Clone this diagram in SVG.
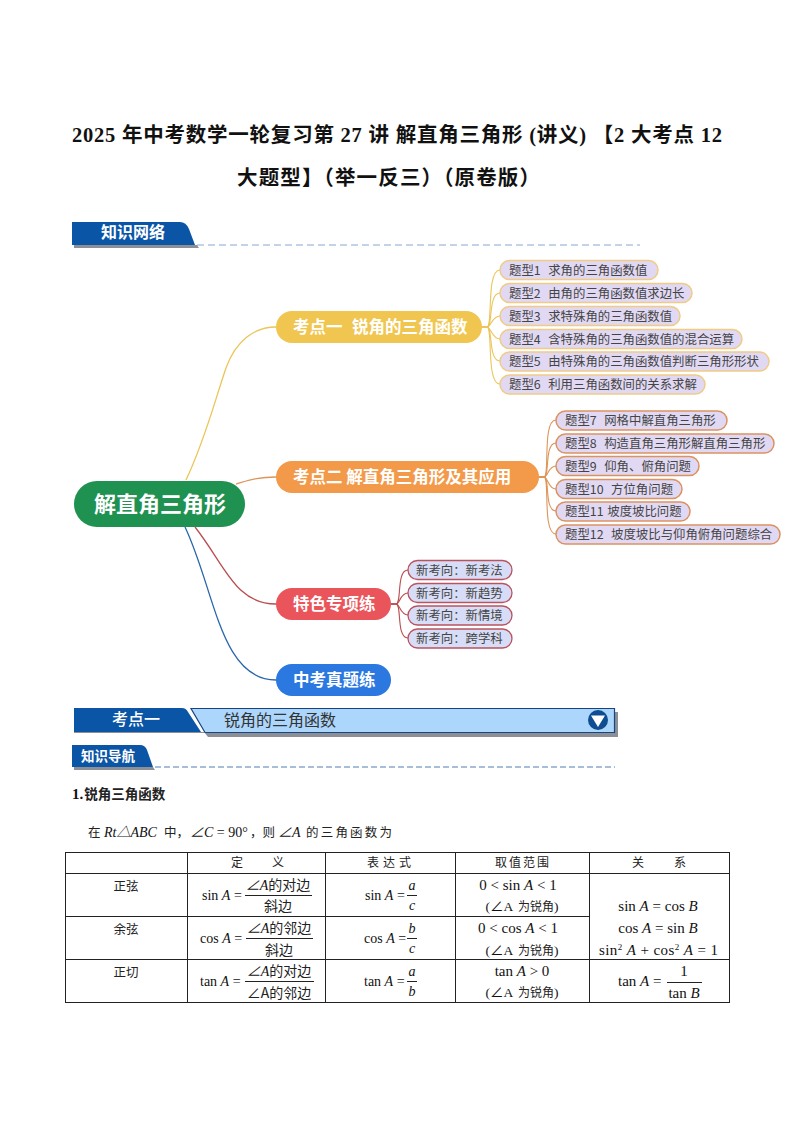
<svg xmlns="http://www.w3.org/2000/svg" width="794" height="1123" viewBox="0 0 794 1123">
<style>
text{font-family:"Noto Sans CJK SC","Noto Sans",sans-serif;white-space:pre}
.ttl{font-family:"Liberation Serif","Noto Sans CJK SC",serif;font-size:20.5px;font-weight:700;fill:#111}
.k{font-size:16.5px;font-weight:700;fill:#fff}
.lf{font-size:12.4px;fill:#444}
.l1{fill:#e1d9f3;stroke:#efcb86;stroke-width:1.5}
.l2{fill:#e1d9f3;stroke:#db9261;stroke-width:1.5}
.l3{fill:#d7ddf6;stroke:#b9535f;stroke-width:1.3}
.c{fill:none;stroke-width:1.3}
.f{fill:none;stroke-width:1.1}
.cy{stroke:#ebc55a}.co{stroke:#dd9458}.cr{stroke:#b94d50}.cb{stroke:#2a66ad}
.dash{stroke:#86a8d2;stroke-width:1;stroke-dasharray:7 4;fill:none}
.dash2{stroke:#4f7fb3;stroke-width:1;stroke-dasharray:6 3;fill:none}
.bn{fill:#0b55a6}.sh{fill:#8c9096}
.tl{stroke:#222;stroke-width:1;fill:none}
.m{font-family:"Liberation Serif","Noto Sans CJK SC",serif;font-size:14px;fill:#111}
.r{font-family:"Liberation Serif","Noto Sans CJK SC",serif;font-size:15px;fill:#111}
.p{font-family:"Liberation Serif","Noto Sans CJK SC",serif;font-size:13.500px;fill:#111}
.mi{font-style:italic}
.cj{font-family:"Noto Sans CJK SC",sans-serif;font-size:12.500px;fill:#222}
.cjs{font-family:"Noto Sans CJK SC",sans-serif;font-size:12px;fill:#222}
.cjb{font-family:"Noto Sans CJK SC",sans-serif;font-size:14px;fill:#222}
.one{font-family:"Liberation Serif",serif;font-size:15px;font-weight:700;fill:#111}
.oc{font-family:"Noto Sans CJK SC",sans-serif;font-size:13.500px;font-weight:700;fill:#222}
.mid{text-anchor:middle}
</style>
<rect width="794" height="1123" fill="#fff"/>
<g id="title">
<text class="ttl" x="72" y="142" textLength="650" lengthAdjust="spacing">2025 年中考数学一轮复习第 27 讲 解直角三角形 (讲义) 【2 大考点 12</text>
<text class="ttl" x="237" y="185" textLength="303" lengthAdjust="spacing">大题型】（举一反三）（原卷版）</text>
</g>
<g id="banner-network">
<path class="sh" d="M74 245H197L199 248H74Z"/>
<path class="bn" d="M72 222H180Q186 222 189 229L195 245H72Z"/>
<text x="101" y="238" font-size="16" font-weight="700" fill="#fff">知识网络</text>
<path class="dash" d="M197 245H640"/>
</g>
<g id="connectors">
<path class="c cy" d="M186 480C205 440 215 400 226 368C236 340 255 327 276 327"/>
<path class="c co" d="M236 484C250 480 258 477 276 477"/>
<path class="c cr" d="M195 527C225 565 235 604 276 604"/>
<path class="c cb" d="M185 527C215 590 220 680 276 680"/>
<path class="f cy" d="M482 327H487C493 327 486 270 500 270"/>
<path class="f cy" d="M482 327H487C493 327 488 293 500 293"/>
<path class="f cy" d="M482 327H487C491 327 492 316 500 316"/>
<path class="f cy" d="M482 327H487C491 327 492 339 500 339"/>
<path class="f cy" d="M482 327H487C493 327 488 361 500 361"/>
<path class="f cy" d="M482 327H487C493 327 486 384 500 384"/>
<path class="f co" d="M539 477H544C550 477 542 420 556 420"/>
<path class="f co" d="M539 477H544C550 477 544 443 556 443"/>
<path class="f co" d="M539 477H544C548 477 548 466 556 466"/>
<path class="f co" d="M539 477H544C548 477 548 489 556 489"/>
<path class="f co" d="M539 477H544C550 477 544 511 556 511"/>
<path class="f co" d="M539 477H544C550 477 542 534 556 534"/>
<path class="f cr" d="M391 604H396C402 604 396 570 408 570"/>
<path class="f cr" d="M391 604H396C400 604 400 593 408 593"/>
<path class="f cr" d="M391 604H396C400 604 400 615 408 615"/>
<path class="f cr" d="M391 604H396C402 604 396 638 408 638"/>
</g>
<g id="root"><rect x="74" y="481" width="171" height="46" rx="23" fill="#1f9150"/><text x="94" y="512" font-size="22" font-weight="700" fill="#fff">解直角三角形</text></g>
<g id="k1"><rect x="276" y="311" width="206" height="32" rx="16" fill="#f0c650"/><text class="k" x="293" y="333">考点一  <tspan dx="2">锐角的三角函数</tspan></text></g>
<g id="k2"><rect x="276" y="461" width="263" height="32" rx="16" fill="#f29a4a"/><text class="k" x="293" y="483">考点二 解直角三角形及其应用</text></g>
<g id="k3"><rect x="276" y="588" width="115" height="32" rx="16" fill="#e9555a"/><text class="k" x="293" y="610">特色专项练</text></g>
<g id="k4"><rect x="276" y="664" width="115" height="32" rx="16" fill="#2b78e0"/><text class="k" x="293" y="686">中考真题练</text></g>
<g id="t1"><rect class="l1" x="500" y="260.500" width="158" height="19" rx="9.500"/><text class="lf" x="509" y="275">题型1  <tspan dx="2">求角的三角函数值</tspan></text></g>
<g id="t2"><rect class="l1" x="500" y="283.500" width="192" height="19" rx="9.500"/><text class="lf" x="509" y="298">题型2  <tspan dx="2">由角的三角函数值求边长</tspan></text></g>
<g id="t3"><rect class="l1" x="500" y="306.500" width="180" height="19" rx="9.500"/><text class="lf" x="509" y="321">题型3  <tspan dx="2">求特殊角的三角函数值</tspan></text></g>
<g id="t4"><rect class="l1" x="500" y="329.500" width="242" height="19" rx="9.500"/><text class="lf" x="509" y="343.500">题型4  <tspan dx="2">含特殊角的三角函数值的混合运算</tspan></text></g>
<g id="t5"><rect class="l1" x="500" y="352" width="269" height="19" rx="9.500"/><text class="lf" x="509" y="366">题型5  <tspan dx="2">由特殊角的三角函数值判断三角形形状</tspan></text></g>
<g id="t6"><rect class="l1" x="500" y="375" width="205" height="19" rx="9.500"/><text class="lf" x="509" y="389">题型6  <tspan dx="2">利用三角函数间的关系求解</tspan></text></g>
<g id="t7"><rect class="l2" x="556" y="411" width="171" height="19" rx="9.500"/><text class="lf" x="565" y="425">题型7  <tspan dx="2">网格中解直角三角形</tspan></text></g>
<g id="t8"><rect class="l2" x="556" y="434" width="218" height="19" rx="9.500"/><text class="lf" x="565" y="448">题型8  <tspan dx="2">构造直角三角形解直角三角形</tspan></text></g>
<g id="t9"><rect class="l2" x="556" y="456.500" width="143" height="19" rx="9.500"/><text class="lf" x="565" y="471">题型9  <tspan dx="2">仰角、俯角问题</tspan></text></g>
<g id="t10"><rect class="l2" x="556" y="479.500" width="126" height="19" rx="9.500"/><text class="lf" x="565" y="494">题型10  <tspan dx="2">方位角问题</tspan></text></g>
<g id="t11"><rect class="l2" x="556" y="502" width="134" height="19" rx="9.500"/><text class="lf" x="565" y="516">题型11 <tspan dx="1">坡度坡比问题</tspan></text></g>
<g id="t12"><rect class="l2" x="556" y="525" width="224" height="19" rx="9.500"/><text class="lf" x="565" y="539">题型12  <tspan dx="2">坡度坡比与仰角俯角问题综合</tspan></text></g>
<g id="n1"><rect class="l3" x="408" y="560.500" width="104" height="19" rx="9.500"/><text class="lf" x="416" y="575">新考向：新考法</text></g>
<g id="n2"><rect class="l3" x="408" y="583.500" width="104" height="19" rx="9.500"/><text class="lf" x="416" y="598">新考向：新趋势</text></g>
<g id="n3"><rect class="l3" x="408" y="606" width="104" height="19" rx="9.500"/><text class="lf" x="416" y="620">新考向：新情境</text></g>
<g id="n4"><rect class="l3" x="408" y="629" width="104" height="19" rx="9.500"/><text class="lf" x="416" y="643">新考向：跨学科</text></g>
<g id="banner-kaodian">
<path class="sh" d="M74 732H204L208 737H618V712H615V733H74Z"/>
<path d="M191 708.500H614.500V732.500H205Z" fill="#acd6fb" stroke="#17457f" stroke-width="1.200"/>
<path class="bn" d="M74 708H182Q186 708 188 712L201 732H74Z"/>
<text x="112" y="725" font-size="16" font-weight="500" fill="#fff">考点一</text>
<text x="224" y="726" font-size="16" fill="#333">锐角的三角函数</text>
<circle cx="598" cy="720" r="10" fill="#0f4d92"/>
<path d="M591 715.500H605L598 727Z" fill="#fff"/>
</g>
<g id="banner-nav">
<path class="sh" d="M74 767H153L155 770H74Z"/>
<path class="bn" d="M72 745H140Q145 745 147 750L153 767H72Z"/>
<text x="81" y="761" font-size="13.500" font-weight="700" fill="#fff">知识导航</text>
<path class="dash2" d="M155 767H615"/>
</g>
<g id="body-text">
<text class="one" x="72" y="799">1.<tspan class="oc" dx="1">锐角三角函数</tspan></text>
<text class="cj" x="88" y="837">在</text>
<text class="m mi" x="104" y="837">Rt△ABC</text>
<text class="cj" x="164" y="837">中，</text>
<text class="m" x="190" y="837"><tspan class="mi">∠C</tspan> = 90°</text>
<text class="cj" x="250" y="837">，则</text>
<text class="m mi" x="278" y="837">∠A</text>
<text class="cj" x="306" y="837" textLength="86" lengthAdjust="spacing">的三角函数为</text>
</g>
<g id="table">
<path class="tl" d="M65 852.500H730M65 873.500H730M65 916.500H589M65 959.500H730M65 1002.500H730M65.500 852V1003M187.500 852V1003M325.500 852V1003M455.500 852V1003M589.500 852V1003M729.500 852V1003"/>
<text class="cjs" x="231" y="867">定</text><text class="cjs" x="272" y="867">义</text>
<text class="cjs" x="367" y="867" textLength="44">表达式</text>
<text class="cjs" x="495" y="867" textLength="54">取值范围</text>
<text class="cjs" x="632" y="867">关</text><text class="cjs" x="674" y="867">系</text>
<text class="cj mid" x="126" y="891">正弦</text>
<text class="cj mid" x="126" y="934">余弦</text>
<text class="cj mid" x="126" y="977">正切</text>
<g id="row-sin">
<text class="m" x="202" y="900">sin <tspan class="mi">A</tspan> =</text>
<path class="tl" d="M245 895.500H312"/>
<text class="cjb mid" x="278" y="890"><tspan class="m mi">∠A</tspan>的对边</text>
<text class="cjb mid" x="278" y="911">斜边</text>
<text class="m" x="365" y="900">sin <tspan class="mi">A</tspan> =</text>
<path class="tl" d="M407 895.500H417"/>
<text class="m mi mid" x="412" y="890">a</text><text class="m mi mid" x="412" y="910">c</text>
<text class="r mid" x="518" y="890">0 &lt; sin <tspan class="mi">A</tspan> &lt; 1</text>
<text class="p mid" x="522" y="911">(∠A <tspan class="cjs" dx="2">为锐角</tspan>)</text>
</g>
<g id="row-cos">
<text class="m" x="200" y="943">cos <tspan class="mi">A</tspan> =</text>
<path class="tl" d="M246 938.500H313"/>
<text class="cjb mid" x="279" y="933"><tspan class="m mi">∠A</tspan>的邻边</text>
<text class="cjb mid" x="279" y="955">斜边</text>
<text class="m" x="364" y="943">cos <tspan class="mi">A</tspan> =</text>
<path class="tl" d="M407 938.500H417"/>
<text class="m mi mid" x="412" y="933">b</text><text class="m mi mid" x="412" y="953">c</text>
<text class="r mid" x="518" y="933">0 &lt; cos <tspan class="mi">A</tspan> &lt; 1</text>
<text class="p mid" x="522" y="955">(∠A <tspan class="cjs" dx="2">为锐角</tspan>)</text>
</g>
<g id="row-tan">
<text class="m" x="200" y="986">tan <tspan class="mi">A</tspan> =</text>
<path class="tl" d="M245 981.500H314"/>
<text class="cjb mid" x="279" y="976"><tspan class="m mi">∠A</tspan>的对边</text>
<text class="cjb mid" x="279" y="998">∠A的邻边</text>
<text class="m" x="364" y="986">tan <tspan class="mi">A</tspan> =</text>
<path class="tl" d="M407 981.500H417"/>
<text class="m mi mid" x="412" y="976">a</text><text class="m mi mid" x="412" y="996">b</text>
<text class="r mid" x="522" y="976">tan <tspan class="mi">A</tspan> &gt; 0</text>
<text class="p mid" x="522" y="997">(∠A <tspan class="cjs" dx="2">为锐角</tspan>)</text>
</g>
<g id="relations">
<text class="r mid" x="658" y="911">sin <tspan class="mi">A</tspan> = cos <tspan class="mi">B</tspan></text>
<text class="r mid" x="658" y="933">cos <tspan class="mi">A</tspan> = sin <tspan class="mi">B</tspan></text>
<text class="r" x="599" y="955" textLength="119" lengthAdjust="spacing">sin<tspan font-size="9" dy="-5">2</tspan><tspan dy="5"> </tspan><tspan class="mi">A</tspan> + cos<tspan font-size="9" dy="-5">2</tspan><tspan dy="5"> </tspan><tspan class="mi">A</tspan> = 1</text>
<text class="r" x="618" y="986">tan <tspan class="mi">A</tspan> =</text>
<path class="tl" d="M667 982.500H702"/>
<text class="r mid" x="684" y="976">1</text>
<text class="r mid" x="684" y="998">tan <tspan class="mi">B</tspan></text>
</g>
</g>
</svg>
